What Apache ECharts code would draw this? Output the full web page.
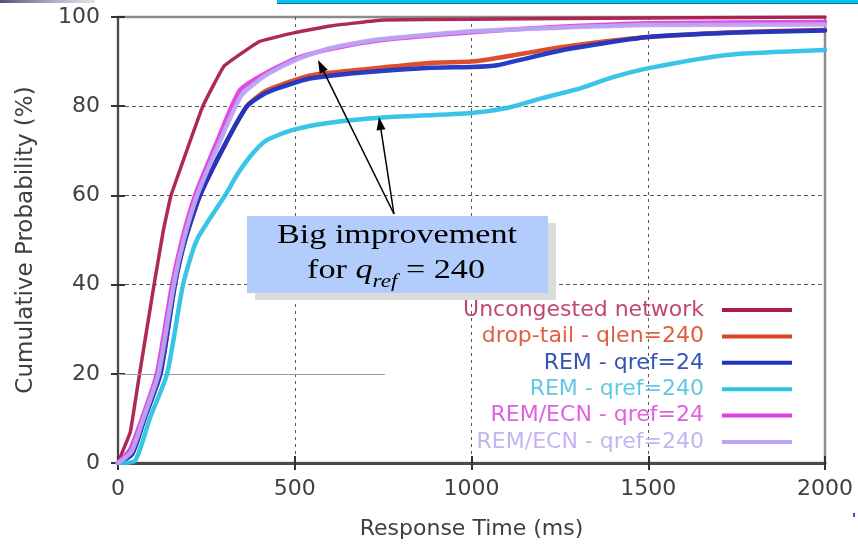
<!DOCTYPE html>
<html>
<head>
<meta charset="utf-8">
<script src="https://cdn.jsdelivr.net/npm/echarts@6/dist/echarts.min.js"></script>
<style>
html,body{margin:0;padding:0;background:#fff;}
#chart{width:858px;height:547px;}
</style>
</head>
<body>
<div id="chart"></div>
<script>
// ---- data ----
const seriesNames = ['Uncongested network','drop-tail - qlen=240','REM - qref=24','REM - qref=240','REM/ECN - qref=24','REM/ECN - qref=240'];
const xTicks = [0, 500, 1000, 1500, 2000];
const yTicks = [0, 20, 40, 60, 80, 100];

const uncongT = [0, 10, 35, 57, 100, 128, 150, 240, 300, 400, 500, 600, 750, 1000, 1500, 2000];
const uncongP = [0, 2, 7, 18, 39, 52, 60, 80, 89, 94.5, 96.5, 98, 99.3, 99.5, 99.8, 100];

const dropT = [0, 40, 75, 120, 161, 190, 232, 300, 365, 420, 506, 552, 700, 883, 1000, 1072, 1259, 1500, 1750, 2000];
const dropP = [0, 2, 10, 20, 40, 50, 60, 71, 80, 83.5, 86, 87, 88.3, 89.7, 90, 90.8, 93.3, 95.5, 96.6, 97.1];

const rem24T = [0, 40, 75, 120, 161, 190, 232, 300, 365, 420, 506, 552, 700, 883, 1000, 1072, 1259, 1500, 1750, 2000];
const rem24P = [0, 2, 10, 20, 40, 50, 60, 71, 80, 83, 85.4, 86.3, 87.6, 88.6, 88.8, 89.2, 92.6, 95.5, 96.5, 97];

const rem240T = [0, 48, 90, 139, 184, 223, 303, 340, 382, 421, 495, 600, 741, 1000, 1100, 1200, 1307, 1400, 1505, 1722, 2000];
const rem240P = [0, 0.5, 10, 20, 40, 50, 60, 65, 69.5, 72.4, 74.7, 76.3, 77.4, 78.5, 79.6, 81.8, 84, 86.5, 88.6, 91.5, 92.6];

const ecn24T = [0, 34, 68, 110, 153, 181, 218, 280, 345, 420, 506, 600, 741, 1000, 1250, 1500, 2000];
const ecn24P = [0, 3, 10, 20, 40, 50, 60, 72, 83.6, 87.5, 90.8, 92.8, 94.8, 96.6, 97.8, 98.6, 98.9];

const ecn240T = [0, 38, 72, 115, 158, 186, 224, 285, 350, 420, 506, 600, 741, 1000, 1250, 1500, 2000];
const ecn240P = [0, 2.5, 10, 20, 40, 50, 60, 71.5, 82.5, 87, 90.5, 93, 95, 96.8, 97.6, 98.2, 98.3];

const lineColors = ['#a81f4c', '#dc4422', '#1c34c4', '#2ec2e4', '#e040e0', '#bca4f2'];
const textColors = ['#c04870', '#e0603e', '#3454b4', '#62c8e2', '#e060e0', '#c4b4f2'];

function pairs(t, p){ return t.map((v,i)=>[v, p[i]]); }
const allData = [
  pairs(uncongT, uncongP), pairs(dropT, dropP), pairs(rem24T, rem24P),
  pairs(rem240T, rem240P), pairs(ecn24T, ecn24P), pairs(ecn240T, ecn240P)
];

const chart = echarts.init(document.getElementById('chart'), null, {renderer:'canvas'});

const labelFont = 'DejaVu Sans';
const series = allData.map((d,i)=>({
  name: seriesNames[i],
  type: 'line',
  data: d,
  showSymbol: false,
  symbol: 'none',
  smooth: i === 0 ? 0.08 : 0.2,
  lineStyle: {color: lineColors[i], width: i === 0 ? 3.5 : 4.5, opacity: 0.95, join: 'round', cap: 'round'},
  itemStyle: {color: lineColors[i]},
  emphasis: {disabled: true},
  z: 3 + i
}));
// partial solid guide line at 20 %
series.push({
  type: 'line', data: [], silent: true, z: 1,
  markLine: {
    silent: true, symbol: 'none', label: {show:false},
    lineStyle: {color: '#9a9a9a', width: 1, type: 'solid'},
    data: [[{coord:[0,20]},{coord:[755,20]}]]
  }
});

// annotation helpers
const ctx = document.createElement('canvas').getContext('2d');
function tw(text, font){ ctx.font = font; return ctx.measureText(text).width; }
const SX = 1.22;
const serif = "'Liberation Serif', 'Times New Roman', serif";
const fBig = '28px ' + serif;
const fBigI = 'italic 28px ' + serif;
const fSubI = 'italic 19px ' + serif;
const w1 = tw('for ', fBig), w2 = tw('q', fBigI), w3 = tw('ref', fSubI), w4 = tw(' = 240', fBig);
const line2W = (w1+w2+w3+w4) * SX;
const l2x = 396 - line2W/2;
const bottom2 = 285;

function arrow(x0,y0,x1,y1){
  const ang = Math.atan2(y1-y0, x1-x0);
  const L = 13, W = 4.5;
  const bx = x1 - L*Math.cos(ang), by = y1 - L*Math.sin(ang);
  const px = -Math.sin(ang)*W, py = Math.cos(ang)*W;
  return [
    {type:'line', shape:{x1:x0,y1:y0,x2:bx,y2:by}, style:{stroke:'#000', lineWidth:1.5}, z:20},
    {type:'polygon', shape:{points:[[x1,y1],[bx+px,by+py],[bx-px,by-py]]}, style:{fill:'#000'}, z:20}
  ];
}

const graphics = [
  // slide decoration top
  {type:'rect', shape:{x:277,y:0,width:581,height:3}, style:{fill:'#00c4f0'}, z:30},
  {type:'rect', shape:{x:277,y:3,width:581,height:1}, style:{fill:'#1a6aa0'}, z:30},
  {type:'rect', shape:{x:0,y:0,width:95,height:3}, style:{fill:{type:'linear',x:0,y:0,x2:1,y2:0,colorStops:[{offset:0,color:'rgba(70,60,110,0.9)'},{offset:1,color:'rgba(120,110,150,0.2)'}]}}, z:30},
  {type:'rect', shape:{x:853,y:513,width:2,height:4}, style:{fill:'#3050e0'}, z:30},
  // annotation box with shadow
  {type:'rect', shape:{x:255,y:223,width:301,height:77}, style:{fill:'#dcdcdc'}, z:15},
  {type:'rect', shape:{x:247,y:216,width:301,height:77}, style:{fill:'#b2cdfb'}, z:16},
  {type:'group', x:397, y:250, scaleX:SX, z:17, children:[
    {type:'text', x:0, y:0, style:{text:'Big improvement', font:fBig, fill:'#000', align:'center', verticalAlign:'bottom'}, z:17}
  ]},
  {type:'group', x:l2x, y:bottom2, scaleX:SX, z:17, children:[
    {type:'text', x:0, y:0, style:{text:'for ', font:fBig, fill:'#000', align:'left', verticalAlign:'bottom'}, z:17},
    {type:'text', x:w1, y:0, style:{text:'q', font:fBigI, fill:'#000', align:'left', verticalAlign:'bottom'}, z:17},
    {type:'text', x:w1+w2, y:6, style:{text:'ref', font:fSubI, fill:'#000', align:'left', verticalAlign:'bottom'}, z:17},
    {type:'text', x:w1+w2+w3, y:0, style:{text:' = 240', font:fBig, fill:'#000', align:'left', verticalAlign:'bottom'}, z:17}
  ]}
].concat(arrow(394,214,318,60), arrow(394,214,379,117));

const option = {
  animation: false,
  backgroundColor: '#ffffff',
  grid: {left:118, right:33, top:17, bottom:84, show:true, borderColor:'#8c8c8c', borderWidth:2.5, containLabel:false},
  legend: {
    orient:'vertical', right:66, top:299, align:'right', padding:0,
    itemWidth:70, itemHeight:4, itemGap:4.4, icon:'rect', selectedMode:false,
    textStyle:{fontFamily:labelFont, fontSize:22, lineHeight:22, padding:[0,13,0,0]},
    data: seriesNames.map((n,i)=>({name:n, textStyle:{color:textColors[i]}}))
  },
  xAxis: [{
    type:'value', min:xTicks[0], max:xTicks[xTicks.length-1], interval:xTicks[1]-xTicks[0],
    position:'bottom',
    axisLine:{show:true, onZero:false, lineStyle:{color:'#4a4a4a', width:3}},
    axisTick:{show:true, inside:true, length:7, lineStyle:{color:'#333', width:2}},
    axisLabel:{fontFamily:labelFont, fontSize:22, color:'#404040', margin:15, formatter: v => String(v)},
    splitLine:{show:true, lineStyle:{color:['transparent','#5a5a5a','#5a5a5a','#5a5a5a','transparent'], width:1, type:[3,4]}},
    name:'Response Time (ms)', nameLocation:'middle', nameGap:55,
    nameTextStyle:{fontFamily:labelFont, fontSize:22, color:'#404040'}
  },{
    type:'value', min:xTicks[0], max:xTicks[xTicks.length-1], interval:xTicks[1]-xTicks[0],
    position:'top',
    axisLine:{show:false}, axisLabel:{show:false}, splitLine:{show:false},
    axisTick:{show:true, inside:true, length:7, lineStyle:{color:'#333', width:2}}
  }],
  yAxis: [{
    type:'value', min:yTicks[0], max:yTicks[yTicks.length-1], interval:yTicks[1]-yTicks[0],
    position:'left',
    axisLine:{show:true, onZero:false, lineStyle:{color:'#4a4a4a', width:2}},
    axisTick:{show:true, inside:true, length:7, lineStyle:{color:'#333', width:2}},
    axisLabel:{fontFamily:labelFont, fontSize:22, color:'#404040', margin:18, formatter: v => String(v)},
    splitLine:{show:true, lineStyle:{color:['transparent','transparent','#5a5a5a','#5a5a5a','#5a5a5a','transparent'], width:1, type:[4,3]}},
    name:'Cumulative Probability (%)', nameLocation:'middle', nameGap:80, nameRotate:90,
    nameTextStyle:{fontFamily:labelFont, fontSize:23, color:'#404040'}
  },{
    type:'value', min:yTicks[0], max:yTicks[yTicks.length-1], interval:yTicks[1]-yTicks[0],
    position:'right',
    axisLine:{show:false}, axisLabel:{show:false}, splitLine:{show:false},
    axisTick:{show:true, inside:true, length:7, lineStyle:{color:'#333', width:2}}
  }],
  series: series,
  graphic: graphics
};
chart.setOption(option);
</script>
</body>
</html>
